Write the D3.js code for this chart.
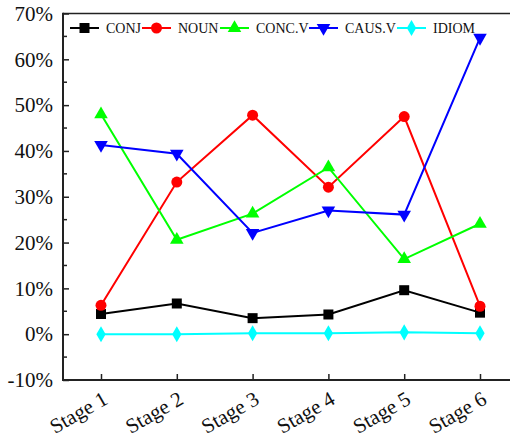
<!DOCTYPE html>
<html>
<head>
<meta charset="utf-8">
<script src="https://cdn.jsdelivr.net/npm/d3@7"></script>
<style>
  body { margin: 0; background: #fff; }
</style>
</head>
<body>
<div id="container"></div>
<script>
"use strict";

var stages = ["Stage 1", "Stage 2", "Stage 3", "Stage 4", "Stage 5", "Stage 6"];
var conj = [4.4, 6.7, 3.5, 4.3, 9.6, 4.7];
var noun = [6.3, 33.2, 47.8, 32.1, 47.5, 6.1];
var concV = [48.0, 20.6, 26.3, 36.4, 16.4, 24.1];
var causV = [41.3, 39.4, 22.1, 27.0, 26.1, 64.7];
var idiom = [0.0, 0.0, 0.2, 0.2, 0.4, 0.2];
var yTicks = [-10, 0, 10, 20, 30, 40, 50, 60, 70];

var series = [
    { name: "CONJ", values: conj, color: "#000000", symbol: d3.symbolSquare, size: 100, rot: 0 },
    { name: "NOUN", values: noun, color: "#ff0000", symbol: d3.symbolCircle, size: 95, rot: 0 },
    { name: "CONC.V", values: concV, color: "#00ff00", symbol: d3.symbolTriangle, size: 80, rot: 0 },
    { name: "CAUS.V", values: causV, color: "#0000ff", symbol: d3.symbolTriangle, size: 80, rot: 180 },
    { name: "IDIOM", values: idiom, color: "#00ffff", symbol: d3.symbolDiamond, size: 75, rot: 0 }
];

var font = "'Liberation Serif', 'Times New Roman', serif";
var width = 510;
var height = 435;
var plotLeft = 63, plotTop = 13.5, plotBottom = 380;
var x = d3.scalePoint().domain(stages).range([101, 480]);
var y = d3.scaleLinear().domain([-10, 70]).range([plotBottom, plotTop]);

var svg = d3.select("#container").append("svg").attr("width", width).attr("height", height)
    .style("font-family", font);

// frame
svg.append("line").attr("x1", plotLeft).attr("x2", width).attr("y1", plotTop).attr("y2", plotTop)
    .attr("stroke", "#222").attr("stroke-width", 1.5);

// y axis
var yAxis = d3.axisLeft(y).tickValues(yTicks).tickSize(-6).tickPadding(10)
    .tickFormat(function (d) { return d + "%"; });
var gy = svg.append("g").attr("transform", "translate(" + plotLeft + ",0)").call(yAxis)
    .attr("font-family", null).attr("font-size", null);
gy.select(".domain").remove();
gy.selectAll(".tick line").attr("stroke", "#222").attr("stroke-width", 1.5);
gy.selectAll(".tick text").style("font-family", font).style("font-size", "21px").attr("fill", "#111");
gy.selectAll("line.minor").data(d3.range(-5, 70, 10)).enter().append("line")
    .attr("class", "minor").attr("x1", 0).attr("x2", 4)
    .attr("y1", function (d) { return y(d); }).attr("y2", function (d) { return y(d); })
    .attr("stroke", "#222").attr("stroke-width", 1.5);
svg.append("line").attr("x1", plotLeft).attr("x2", plotLeft).attr("y1", plotTop - 0.75).attr("y2", plotBottom + 1)
    .attr("stroke", "#222").attr("stroke-width", 2);

// x axis
var xAxis = d3.axisBottom(x).tickSize(-6).tickFormat("");
var gx = svg.append("g").attr("transform", "translate(0," + plotBottom + ")").call(xAxis);
gx.select(".domain").remove();
gx.selectAll(".tick line").attr("stroke", "#222").attr("stroke-width", 1.5);
svg.append("line").attr("x1", plotLeft - 1).attr("x2", width).attr("y1", plotBottom).attr("y2", plotBottom)
    .attr("stroke", "#222").attr("stroke-width", 2);
svg.selectAll("text.xlab").data(stages).enter().append("text")
    .attr("class", "xlab")
    .attr("transform", function (d) { return "translate(" + (x(d) + 8) + "," + (plotBottom + 23) + ") rotate(-30)"; })
    .attr("text-anchor", "end").style("font-family", font).style("font-size", "21px").attr("fill", "#111")
    .text(function (d) { return d; });

// lines and markers
var line = d3.line().x(function (d, i) { return x(stages[i]); }).y(function (d) { return y(d); });
series.forEach(function (s) {
    var g = svg.append("g");
    g.append("path").attr("d", line(s.values)).attr("fill", "none")
        .attr("stroke", s.color).attr("stroke-width", 2);
    g.selectAll("path.mk").data(s.values).enter().append("path").attr("class", "mk")
        .attr("d", d3.symbol().type(s.symbol).size(s.size))
        .attr("transform", function (d, i) {
            return "translate(" + x(stages[i]) + "," + y(d) + ") rotate(" + s.rot + ")";
        })
        .attr("fill", s.color);
});

// legend
var legendX = [70, 142, 220, 309, 397];
var legY = 28;
series.forEach(function (s, i) {
    var lg = svg.append("g").attr("transform", "translate(" + legendX[i] + "," + legY + ")");
    lg.append("line").attr("x1", 0).attr("x2", 29).attr("y1", 0).attr("y2", 0)
        .attr("stroke", s.color).attr("stroke-width", 2);
    lg.append("path").attr("d", d3.symbol().type(s.symbol).size(s.size))
        .attr("transform", "translate(14.5,0) rotate(" + s.rot + ")").attr("fill", s.color);
    lg.append("text").attr("x", 36).attr("y", 5).style("font-family", font).style("font-size", "14px")
        .attr("fill", "#111").text(s.name);
});
</script>
</body>
</html>
